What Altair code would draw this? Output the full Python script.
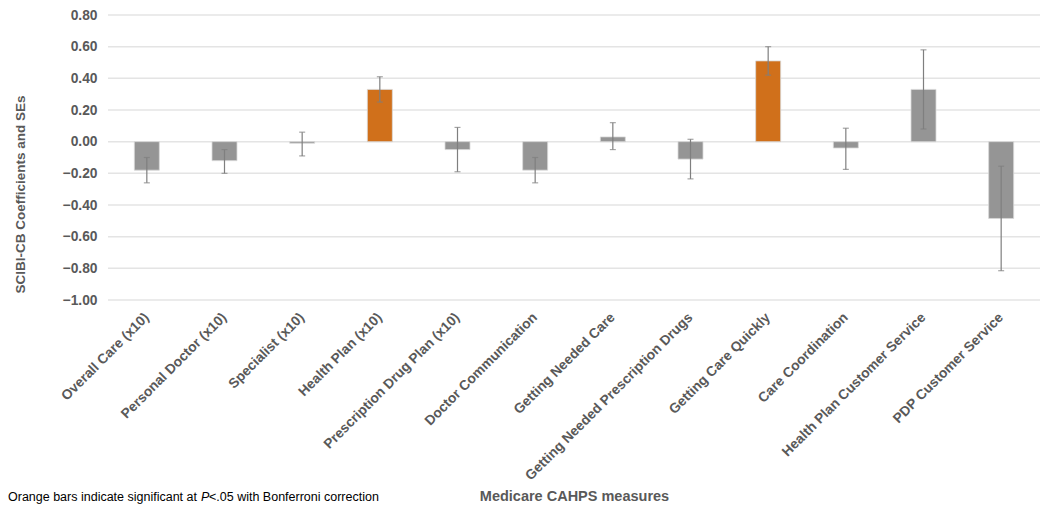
import altair as alt
import pandas as pd

categories = [
    "Overall Care (x10)", "Personal Doctor (x10)", "Specialist (x10)", "Health Plan (x10)",
    "Prescription Drug Plan (x10)", "Doctor Communication", "Getting Needed Care",
    "Getting Needed Prescription Drugs", "Getting Care Quickly", "Care Coordination",
    "Health Plan Customer Service", "PDP Customer Service",
]
coef = [-0.18, -0.12, -0.01, 0.33, -0.05, -0.18, 0.03, -0.11, 0.51, -0.04, 0.33, -0.485]
err_low = [-0.26, -0.20, -0.09, 0.25, -0.19, -0.26, -0.05, -0.235, 0.42, -0.175, 0.08, -0.815]
err_high = [-0.10, -0.05, 0.06, 0.41, 0.09, -0.10, 0.12, 0.015, 0.60, 0.085, 0.58, -0.155]
significant = ["no", "no", "no", "yes", "no", "no", "no", "no", "yes", "no", "no", "no"]
y_ticks = [-1.0, -0.8, -0.6, -0.4, -0.2, 0.0, 0.2, 0.4, 0.6, 0.8]

df = pd.DataFrame({
    "measure": categories, "coef": coef, "lo": err_low, "hi": err_high, "sig": significant,
})

FONT = "Liberation Sans"
GRAY_TXT = "#595959"
W, H = 932, 285

x_axis = alt.Axis(
    title="Medicare CAHPS measures", labelAngle=-45, labelAlign="right",
    labelBaseline="middle", labelFont=FONT, labelFontSize=13.8, labelFontWeight="bold",
    labelColor=GRAY_TXT, labelPadding=15, domain=False, ticks=False, grid=False,
    titleFont=FONT, titleFontSize=14.5, titleFontWeight="bold", titleColor=GRAY_TXT,
    titleY=196, titleBaseline="middle", labelLimit=400, labelOverlap=False,
)
x_scale = alt.Scale(domain=categories, paddingInner=0.0, paddingOuter=0.0)
y_scale = alt.Scale(domain=[-1.0, 0.8], nice=False, zero=False)
y_axis = alt.Axis(
    title="SCIBI-CB Coefficients and SEs", values=y_ticks, format=".2f",
    labelFont=FONT, labelFontSize=13.8, labelFontWeight="bold", labelColor=GRAY_TXT,
    labelPadding=11, domain=False, ticks=False, grid=False,
    labelOverlap=False,
    titleFont=FONT, titleFontSize=13.5, titleFontWeight="bold", titleColor=GRAY_TXT,
    titleX=-88, titleY=179, titleBaseline="middle", titleAlign="center", titleAngle=-90,
)


def xe():
    return alt.X("measure:N", scale=x_scale, axis=x_axis, sort=categories)


def ye(field):
    return alt.Y(field, type="quantitative", scale=y_scale, axis=y_axis)


grid = alt.Chart(pd.DataFrame({"v": y_ticks})).mark_rule(color="#e4e4e4", strokeWidth=1.5).encode(
    y=ye("v")
)

base = alt.Chart(df)
bars = base.mark_bar(size=25, stroke="#d9d9d9", strokeWidth=0.8).encode(
    x=xe(),
    y=ye("coef"),
    color=alt.Color("sig:N", scale=alt.Scale(domain=["yes", "no"], range=["#D0701B", "#959595"]), legend=None),
)
rules = base.mark_rule(color="#7f7f7f", strokeWidth=1.2).encode(
    x=xe(), y=ye("lo"), y2="hi:Q"
)
cap_lo = base.mark_tick(color="#7f7f7f", thickness=1.2, size=6, orient="horizontal").encode(
    x=xe(), y=ye("lo")
)
cap_hi = base.mark_tick(color="#7f7f7f", thickness=1.2, size=6, orient="horizontal").encode(
    x=xe(), y=ye("hi")
)

note_df = pd.DataFrame({"a": [0]})
note_y = 482
n1 = alt.Chart(note_df).mark_text(font=FONT, fontSize=12.5, align="left", baseline="middle", color="#000000").encode(
    x=alt.value(-100), y=alt.value(note_y), text=alt.value("Orange bars indicate significant at ")
)
n2 = alt.Chart(note_df).mark_text(font=FONT, fontSize=12.5, fontStyle="italic", align="left", baseline="middle", color="#000000").encode(
    x=alt.value(-100 + 193), y=alt.value(note_y), text=alt.value("P")
)
n3 = alt.Chart(note_df).mark_text(font=FONT, fontSize=12.5, align="left", baseline="middle", color="#000000").encode(
    x=alt.value(-100 + 201), y=alt.value(note_y), text=alt.value("<.05 with Bonferroni correction")
)

chart = alt.layer(grid, bars, rules, cap_lo, cap_hi, n1, n2, n3).properties(
    width=W, height=H, background="white",
    padding={"left": 0, "top": 0, "right": 0, "bottom": 0},
).configure_view(strokeWidth=0)

chart.save("out.html", embed_options={"renderer": "svg", "actions": False})
